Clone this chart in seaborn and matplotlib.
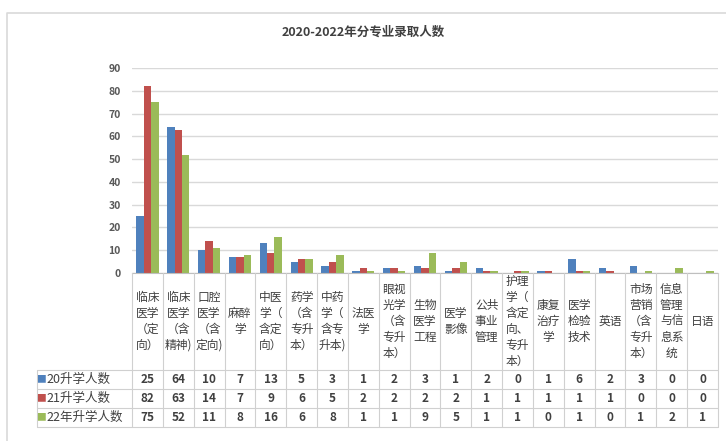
import numpy as np
import pandas as pd
import matplotlib
matplotlib.use("Agg")
import matplotlib.pyplot as plt
import matplotlib.transforms as mtransforms
from matplotlib.lines import Line2D
import seaborn as sns

majors = [
    "临床\n医学\n（定\n向）", "临床\n医学\n（含\n精神)", "口腔\n医学\n（含\n定向)", "麻醉\n学",
    "中医\n学（\n含定\n向）", "药学\n（含\n专升\n本）", "中药\n学（\n含专\n升本)", "法医\n学",
    "眼视\n光学\n（含\n专升\n本）", "生物\n医学\n工程", "医学\n影像", "公共\n事业\n管理",
    "护理\n学（\n含定\n向、\n专升\n本）", "康复\n治疗\n学", "医学\n检验\n技术", "英语",
    "市场\n营销\n（含\n专升\n本）", "信息\n管理\n与信\n息系\n统", "日语",
]
series = ["20升学人数", "21升学人数", "22年升学人数"]
y20 = [25, 64, 10, 7, 13, 5, 3, 1, 2, 3, 1, 2, 0, 1, 6, 2, 3, 0, 0]
y21 = [82, 63, 14, 7, 9, 6, 5, 2, 2, 2, 2, 1, 1, 1, 1, 1, 0, 0, 0]
y22 = [75, 52, 11, 8, 16, 6, 8, 1, 1, 9, 5, 1, 1, 0, 1, 0, 1, 2, 1]
colors = ["#4F81BD", "#C0504D", "#9BBB59"]

df = pd.concat([
    pd.DataFrame({"专业": majors, "人数": vals, "年份": name})
    for name, vals in zip(series, [y20, y21, y22])
])

sns.set_theme(style="white")
plt.rcParams["font.family"] = ["Noto Sans CJK SC", "DejaVu Sans"]

W, H = 726, 441
fig = plt.figure(figsize=(W / 100, H / 100), dpi=100)
ax = fig.add_axes([132 / W, 1 - 273 / H, 586 / W, 205 / H])

sns.barplot(data=df, x="专业", y="人数", hue="年份", palette=colors,
            width=0.72, gap=0, saturation=1, legend=False, ax=ax, errorbar=None,
            linewidth=0, edgecolor="none")

ax.set_xlim(-0.5, len(majors) - 0.5)
ax.set_ylim(0, 90)
ax.set_yticks(range(0, 91, 10))
ax.set_xticks([])
ax.set_xlabel("")
ax.set_ylabel("")
ax.grid(axis="y", color="#D9D9D9", linewidth=1)
ax.set_axisbelow(True)
for s in ["left", "top", "right"]:
    ax.spines[s].set_visible(False)
ax.spines["bottom"].set_color("#BFBFBF")
ax.spines["bottom"].set_linewidth(0.8)
ax.tick_params(axis="y", length=0, pad=8, labelsize=7.5, labelcolor="#595959")
for t in ax.get_yticklabels():
    t.set_fontweight("bold")

# chart title
fig.text(363 / W, 1 - 32 / H, "2020-2022年分专业录取人数", ha="center", va="center",
         fontsize=9, color="#404040", fontweight="bold")

# outer frame
fig.add_artist(Line2D([7 / W, 7 / W, 1], [0, 1 - 13 / H, 1 - 13 / H],
                      transform=fig.transFigure, color="#D9D9D9", lw=1.2))

# data table under the axis
tr = mtransforms.blended_transform_factory(ax.transData, fig.transFigure)
fy = lambda px: 1 - px / H
n = len(majors)
left = -0.5 - (132 - 37) / (586 / n)
lc = "#D0D0D0"
rows_y = [370, 389, 408, 427]
for k in range(n + 1):
    fig.add_artist(Line2D([k - 0.5, k - 0.5], [fy(273), fy(427)], transform=tr, color=lc, lw=0.8))
fig.add_artist(Line2D([left, left], [fy(370), fy(427)], transform=tr, color=lc, lw=0.8))
for yy in rows_y:
    fig.add_artist(Line2D([left, n - 0.5], [fy(yy), fy(yy)], transform=tr, color=lc, lw=0.8))

for i, lab in enumerate(majors):
    fig.text(i, fy(321), lab, transform=tr, ha="center", va="center", multialignment="center",
             fontsize=8.5, color="#404040", linespacing=1.3)

for r, (name, vals, c) in enumerate(zip(series, [y20, y21, y22], colors)):
    yc = fy((rows_y[r] + rows_y[r + 1]) / 2)
    fig.text(41 / W, yc, "■", color=c, ha="center", va="center", fontsize=7)
    fig.text(46 / W, yc, name, color="#404040", ha="left", va="center", fontsize=9)
    for i, v in enumerate(vals):
        fig.text(i, yc, str(v), transform=tr, ha="center", va="center",
                 fontsize=8.5, fontweight="bold", color="#404040")

fig.savefig("out.png", dpi=100)
